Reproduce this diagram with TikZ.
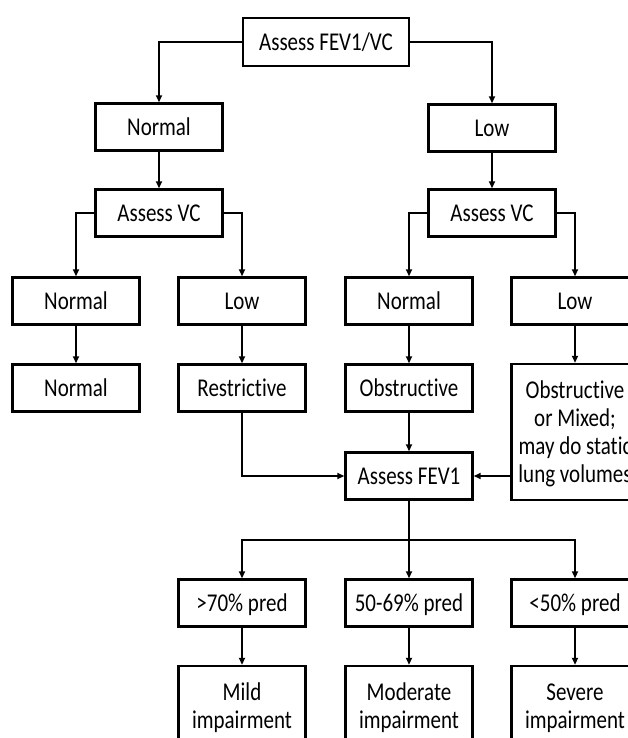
\documentclass[tikz,border=0pt]{standalone}
\usepackage{fontspec}
\setmainfont[Ligatures=NoCommon]{Carlito}
\usetikzlibrary{arrows.meta}
\newcommand\tx[1]{\raisebox{-3pt}[\height][\depth]{\scalebox{1}[1.22]{\begin{tabular}{@{}c@{}}#1\end{tabular}}}}
\begin{document}
\begin{tikzpicture}[x=1pt,y=-1pt,
  box/.style={draw=black, line width=2.4pt, fill=white, minimum width=127pt, minimum height=47pt, inner sep=0pt, align=center, font=\fontsize{21}{23}\selectfont},
  conn/.style={draw=black, line width=2pt, -{Triangle[length=7pt,width=6pt]}},
  plain/.style={draw=black, line width=2pt}]
\useasboundingbox (0,0) rectangle (628,738);
\fill[white] (0,0) rectangle (628,738);
\clip (0,0) rectangle (628,738);
% nodes
\node[box, minimum width=166pt, minimum height=48pt] (top) at (326,42) {\tx{Assess FEV1/VC}};
\node[box] (n1) at (159,127) {\tx{Normal}};
\node[box] (l1) at (492,128) {\tx{Low}};
\node[box] (vc1) at (159,213) {\tx{Assess VC}};
\node[box] (vc2) at (492,213) {\tx{Assess VC}};
\node[box] (r3a) at (76,301) {\tx{Normal}};
\node[box] (r3b) at (242,301) {\tx{Low}};
\node[box] (r3c) at (409,301) {\tx{Normal}};
\node[box] (r3d) at (575,301) {\tx{Low}};
\node[box] (r4a) at (76,388) {\tx{Normal}};
\node[box] (r4b) at (242,388) {\tx{Restrictive}};
\node[box] (r4c) at (409,388) {\tx{Obstructive}};
\node[box, minimum height=136pt] (r4d) at (575,432) {\tx{Obstructive\\or Mixed;\\may do static\\lung volumes}};
\node[box] (fev) at (409,476) {\tx{Assess FEV1}};
\node[box] (r5a) at (242,603) {\tx{>70\% pred}};
\node[box] (r5b) at (409,603) {\tx{50-69\% pred}};
\node[box] (r5c) at (575,603) {\tx{<50\% pred}};
\node[box, minimum height=80pt] (r6a) at (242,706) {\tx{Mild\\impairment}};
\node[box, minimum height=80pt] (r6b) at (409,706) {\tx{Moderate\\impairment}};
\node[box, minimum height=80pt] (r6c) at (575,706) {\tx{Severe\\impairment}};
\coordinate (br) at (409,540);
% connectors
\draw[conn] (top.west) -| (n1.north);
\draw[conn] (top.east) -| (l1.north);
\draw[conn] (n1) -- (vc1);
\draw[conn] (l1) -- (vc2);
\draw[conn] (vc1.west) -| (r3a.north);
\draw[conn] (vc1.east) -| (r3b.north);
\draw[conn] (vc2.west) -| (r3c.north);
\draw[conn] (vc2.east) -| (r3d.north);
\draw[conn] (r3a) -- (r4a);
\draw[conn] (r3b) -- (r4b);
\draw[conn] (r3c) -- (r4c);
\draw[conn] (r3d.south) -- (r4d.north);
\draw[conn] (r4b.south) |- (fev.west);
\draw[conn] (r4c) -- (fev);
\draw[conn] (fev.east -| r4d.west) -- (fev.east);
\draw[plain] (fev.south) -- (br);
\draw[conn] (br) -| (r5a.north);
\draw[conn] (br) -- (r5b.north);
\draw[conn] (br) -| (r5c.north);
\draw[conn] (r5a) -- (r6a);
\draw[conn] (r5b) -- (r6b);
\draw[conn] (r5c) -- (r6c);
\end{tikzpicture}
\end{document}
